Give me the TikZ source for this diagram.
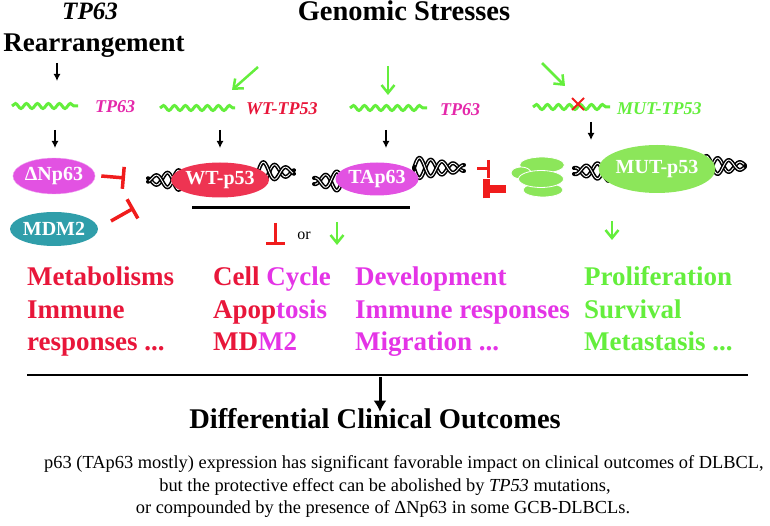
\documentclass[tikz,border=0pt]{standalone}
\usepackage{fontspec}
\setmainfont{Liberation Serif}
\usetikzlibrary{arrows.meta,shapes.geometric,shapes.misc,decorations.pathmorphing}

\definecolor{crimson}{RGB}{232,22,58}
\definecolor{inhred}{RGB}{240,28,28}
\definecolor{mag}{RGB}{228,52,230}
\definecolor{pinkmag}{RGB}{228,40,170}
\definecolor{grn}{RGB}{100,238,60}
\definecolor{wtfill}{RGB}{238,52,82}
\definecolor{pfill}{RGB}{226,82,226}
\definecolor{mutfill}{RGB}{140,230,90}
\definecolor{tealfill}{RGB}{48,158,170}

\tikzset{
  ttl/.style={font=\fontsize{27}{30}\selectfont\bfseries, inner sep=0, anchor=base},
  gene/.style={font=\fontsize{18}{20}\selectfont\bfseries\itshape, inner sep=0, anchor=west},
  prot/.style={ellipse, inner sep=0, text=white, font=\fontsize{20}{22}\selectfont\bfseries},
  eff/.style={font=\fontsize{27}{30}\selectfont\bfseries, inner sep=0, anchor=base west},
  note/.style={font=\fontsize{18.4}{20}\selectfont, inner sep=0, anchor=base},
  wave/.style={draw=grn, line width=3pt, decorate, decoration={snake, segment length=11pt, amplitude=2.5pt}},
  garrow/.style={draw=grn, line width=2.5pt, -{Straight Barb[length=8pt,width=13pt]}},
  barrow/.style={line width=1.3pt, -{Latex[length=7pt,width=7pt]}},
  inhib/.style={draw=inhred, line width=3.5pt, -{Bar[width=22pt,line width=3.5pt]}},
  blob/.style={ellipse, fill=mutfill, draw=white, line width=0.8pt, inner sep=0}
}

% x0, y0, length, direction
\newcommand{\dnahelix}[4]{%
  \foreach \ph in {0,180}{
    \draw[line width=4pt, line cap=round] plot[domain=0:#3, samples=60, smooth] ({#1+#4*\x},{#2+(11-8*\x/#3)*sin(16*\x+\ph)});
    \draw[line width=0.9pt, white] plot[domain=1:#3-1, samples=60, smooth] ({#1+#4*\x},{#2+(11-8*\x/#3)*sin(16*\x+\ph)});
  }%
}

\begin{document}
\begin{tikzpicture}[x=1pt, y=-1pt]
  \useasboundingbox (0,0) rectangle (770,526);

  \node[ttl, font=\fontsize{25}{28}\selectfont\bfseries\itshape] (tp63t) at (90,20) {TP63};
  \node[ttl] (rearr) at (94,52) {Rearrangement};
  \node[ttl, font=\fontsize{28.5}{30}\selectfont\bfseries] (stress) at (404,21) {Genomic Stresses};

  \coordinate (r1) at (57,63); \coordinate (r2) at (57,81);
  \draw[barrow] (r1) -- (r2);
  \coordinate (s1a) at (258,67); \coordinate (s1b) at (232,90);
  \coordinate (s2a) at (388,66); \coordinate (s2b) at (388,95);
  \coordinate (s3a) at (542,63); \coordinate (s3b) at (565,86);
  \draw[garrow] (s1a) -- (s1b);
  \draw[garrow] (s2a) -- (s2b);
  \draw[garrow] (s3a) -- (s3b);

  \coordinate (w1a) at (12,106); \coordinate (w1b) at (78,106);
  \coordinate (w2a) at (160,108); \coordinate (w2b) at (235,108);
  \coordinate (w3a) at (350,108); \coordinate (w3b) at (427,108);
  \coordinate (w4a) at (533,107); \coordinate (w4b) at (610,107);
  \foreach \w in {1,2,3,4}
    \draw[wave] (w\w a) -- (w\w b);
  \node[gene, text=pinkmag] (g1) at (95,107) {TP63};
  \node[gene, text=crimson] (g2) at (246,109) {WT-TP53};
  \node[gene, text=pinkmag] (g3) at (440,110) {TP63};
  \node[gene, text=grn] (g4) at (617,109) {MUT-TP53};
  \node[cross out, draw=inhred, line width=2pt, minimum size=10pt, inner sep=0] (mutx) at (578,104) {};

  \dnahelix{184}{180}{36}{-1}
  \dnahelix{258}{172}{36}{1}
  \dnahelix{342}{181}{28}{-1}
  \dnahelix{414}{168}{50}{1}
  \dnahelix{614}{171}{40}{-1}
  \dnahelix{701}{166}{44}{1}

  \node[prot, fill=pfill, draw=pfill!50!white, minimum width=82pt, minimum height=36pt] (dnp63) at (54,176) {ΔNp63};
  \node[prot, fill=tealfill, minimum width=82pt, minimum height=34pt] (mdm2) at (54,229) {MDM2};
  \node[prot, fill=wtfill, minimum width=86pt, minimum height=35pt] (wtp53) at (220,180) {WT-p53};
  \node[prot, fill=pfill, minimum width=83pt, minimum height=33pt] (tap63) at (377,179) {TAp63};
  \node[prot, fill=mutfill, minimum width=100pt, minimum height=48pt] (mutp53) at (657,169) {MUT-p53};

  \node[blob, minimum width=40pt, minimum height=14pt] (cx4) at (543,190) {};
  \node[blob, minimum width=45pt, minimum height=16pt] (cx1) at (542,165) {};
  \node[blob, minimum width=20pt, minimum height=12pt] (cx2) at (521,173) {};
  \node[blob, minimum width=45pt, minimum height=17pt] (cx3) at (541,179) {};

  \coordinate (a1a) at (55,130); \coordinate (a1b) at (55,148);
  \coordinate (a2a) at (220,130); \coordinate (a2b) at (220,148);
  \coordinate (a3a) at (386,130); \coordinate (a3b) at (386,148);
  \coordinate (a4a) at (591,122); \coordinate (a4b) at (591,140);
  \foreach \a in {1,2,3,4}
    \draw[barrow] (a\a a) -- (a\a b);

  \coordinate (i1) at (125,178);
  \draw[inhib] ([xshift=6pt]dnp63.east) -- (i1);
  \coordinate (i2a) at (111,221); \coordinate (i2b) at (134,208);
  \draw[inhib] (i2a) -- (i2b);
  \coordinate (i3a) at (477,169); \coordinate (i3b) at (490,169);
  \draw[inhib, line width=3pt, -{Bar[width=18pt,line width=3pt]}] (i3a) -- (i3b);
  \coordinate (i4a) at (506,189); \coordinate (i4b) at (483,189);
  \draw[inhib, line width=8pt, -{Bar[width=19pt,line width=7pt]}] (i4a) -- (i4b);

  \coordinate (u1) at (192,208); \coordinate (u2) at (410,208);
  \draw[line width=3pt] (u1) -- (u2);
  \coordinate (t1a) at (275,223); \coordinate (t1b) at (275,245);
  \draw[inhib, line width=3pt, -{Bar[width=19pt,line width=3pt]}] (t1a) -- (t1b);
  \node[font=\fontsize{16}{18}\selectfont, inner sep=0] (or) at (304,236) {or};
  \coordinate (d1a) at (337,222); \coordinate (d1b) at (337,245);
  \draw[garrow] (d1a) -- (d1b);
  \coordinate (d2a) at (612,221); \coordinate (d2b) at (612,240);
  \draw[garrow] (d2a) -- (d2b);

  \node[eff, text=crimson] (met) at (27,286) {Metabolisms};
  \node[eff, text=crimson] (imm1) at (27,318) {Immune};
  \node[eff, text=crimson] (resp1) at (27,350) {responses ...};
  \node[eff, text=crimson] (cell) at (213,286) {Cell \textcolor{mag}{Cycle}};
  \node[eff, text=crimson] (apop) at (213,318) {Apop\textcolor{mag}{tosis}};
  \node[eff, text=crimson] (mdm) at (213,350) {MD\textcolor{mag}{M2}};
  \node[eff, text=mag] (dev) at (355,286) {Development};
  \node[eff, text=mag] (imm2) at (355,318) {Immune responses};
  \node[eff, text=mag] (mig) at (355,350) {Migration ...};
  \node[eff, text=grn] (prol) at (584,286) {Proliferation};
  \node[eff, text=grn] (surv) at (584,318) {Survival};
  \node[eff, text=grn] (meta) at (584,350) {Metastasis ...};

  \coordinate (l1) at (27,375); \coordinate (l2) at (748,375);
  \draw[line width=2.5pt] (l1) -- (l2);
  \coordinate (o1) at (380,377);
  \node[ttl, font=\fontsize{28.5}{30}\selectfont\bfseries] (outc) at (375,428) {Differential Clinical Outcomes};
  \draw[line width=3pt, -{Latex[length=11pt,width=13pt]}] (o1) -- ([yshift=-4pt]outc.north -| o1);

  \node[note] (n1) at (404,468) {p63 (TAp63 mostly) expression has significant favorable impact on clinical outcomes of DLBCL,};
  \node[note] (n2) at (385,491) {but the protective effect can be abolished by \textit{TP53} mutations,};
  \node[note] (n3) at (383,513) {or compounded by the presence of ΔNp63 in some GCB-DLBCLs.};
\end{tikzpicture}
\end{document}
